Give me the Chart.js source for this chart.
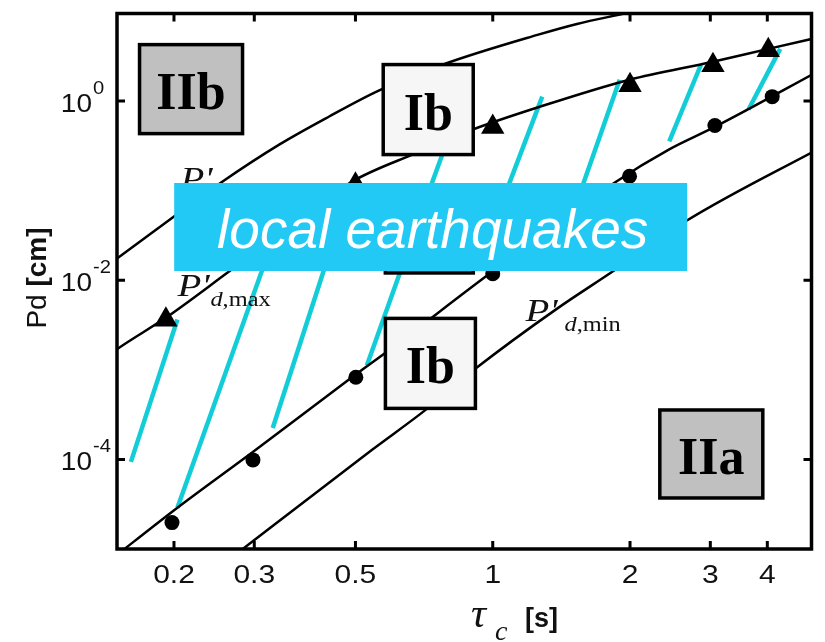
<!DOCTYPE html>
<html>
<head>
<meta charset="utf-8">
<script src="https://cdn.jsdelivr.net/npm/chart.js@4/dist/chart.umd.min.js"></script>
<style>
  html, body { margin: 0; padding: 0; background: #ffffff; }
  canvas { display: block; }
</style>
</head>
<body>
<canvas id="chart" width="825" height="642"></canvas>
<script>
// Axis ticks
const tauTicks = [0.2, 0.3, 0.5, 1, 2, 3, 4];
const tauTickLabels = ['0.2', '0.3', '0.5', '1', '2', '3', '4'];
const pdTicks = [1e-4, 1e-2, 1];
const pdTickExponents = ['-4', '-2', '0'];

// Upper boundary curve (region IIb limit)
const upperTau = [0.1456, 0.1508, 0.2035, 0.2524, 0.3409, 0.4379, 0.5623, 0.7865, 1.253, 1.53, 1.966, 2.79];
const upperPd  = [0.01565, 0.0178, 0.0548, 0.1212, 0.3286, 0.673, 1.308, 2.61, 5.48, 7.26, 9.62, 14.5];

// P'd,max curve
const maxTau = [0.1456, 0.1508, 0.1936, 0.2654, 0.3584, 0.4888, 0.6767, 0.9049, 1.253, 1.995, 3.039, 4.021, 5.35];
const maxPd  = [0.00152, 0.001733, 0.00393, 0.01275, 0.0393, 0.1243, 0.261, 0.482, 0.847, 1.733, 2.75, 3.83, 5.34];

// Middle curve through the dots
const midTau = [0.1456, 0.2035, 0.2978, 0.5012, 0.591, 0.990, 1.842, 2.438, 3.084, 5.35];
const midPd  = [7.64e-6, 2.89e-5, 1.212e-4, 8.91e-4, 1.647e-3, 0.01212, 0.1212, 0.289, 0.521, 2.36];

// P'd,min curve
const minTau = [0.2524, 0.543, 0.7114, 0.9184, 1.384, 1.842, 2.654, 5.35];
const minPd  = [6.39e-6, 1.275e-4, 3.55e-4, 1.039e-3, 4.82e-3, 0.01275, 0.0458, 0.32];

// Observed events
const triangleTau = [0.192, 0.5, 1.0, 2.0, 3.04, 4.02];
const trianglePd  = [0.00362, 0.1166, 0.514, 1.506, 2.51, 3.69];
const dotTau = [0.198, 0.298, 0.501, 1.0, 1.995, 3.07, 4.1];
const dotPd  = [1.97e-5, 9.87e-5, 8.25e-4, 0.0118, 0.145, 0.534, 1.12];

// Hatch strokes of the local-earthquake band
const hatchStartTau = [0.1609, 0.2035, 0.3293, 0.5296, 0.722, 1.067, 1.553, 2.438, 3.638];
const hatchStartPd  = [9.38e-5, 2.89e-5, 2.24e-4, 0.00112, 0.0938, 0.0938, 0.0938, 0.3548, 0.804];
const hatchEndTau   = [0.2035, 0.3162, 0.4313, 0.637, 0.790, 1.284, 1.898, 2.861, 4.27];
const hatchEndPd    = [0.00364, 0.0156, 0.0156, 0.0156, 0.329, 1.122, 1.733, 2.545, 3.83];

// Region names and banner text
const regionNames = ['IIb', 'Ib', 'Ib', 'IIa'];
const bannerText = 'local earthquakes';

const toPoints = (xs, ys) => xs.map((x, i) => ({ x: x, y: ys[i] }));

const curveStyle = {
  showLine: true, pointRadius: 0, borderColor: '#000', borderWidth: 2.5,
  cubicInterpolationMode: 'monotone', clip: 0, fill: false
};
const hatchColor = '#12cdd8';

const datasets = [
  { data: toPoints(triangleTau, trianglePd), pointStyle: 'triangle', pointRadius: 13.5,
    backgroundColor: '#000', borderColor: '#000', borderWidth: 0, showLine: false },
  { data: toPoints(dotTau, dotPd), pointStyle: 'circle', pointRadius: 7.5,
    backgroundColor: '#000', borderColor: '#000', borderWidth: 0, showLine: false },
  Object.assign({ data: toPoints(upperTau, upperPd) }, curveStyle),
  Object.assign({ data: toPoints(maxTau, maxPd) }, curveStyle),
  Object.assign({ data: toPoints(midTau, midPd) }, curveStyle),
  Object.assign({ data: toPoints(minTau, minPd) }, curveStyle)
];
hatchStartTau.forEach((t, i) => {
  datasets.push({
    data: [{ x: t, y: hatchStartPd[i] }, { x: hatchEndTau[i], y: hatchEndPd[i] }],
    showLine: true, pointRadius: 0, borderColor: hatchColor, borderWidth: 4.5,
    borderCapStyle: 'butt', tension: 0, clip: 0
  });
});

// Region boxes, anchored at their centres in data units
const regionLayout = [
  { tau: 0.218, pd: 1.36,    w: 103, h: 89, fill: '#c0c0c0' },
  { tau: 0.722, pd: 0.804,   w: 90,  h: 90, fill: '#f6f6f6' },
  { tau: 0.730, pd: 0.00118, w: 90,  h: 90, fill: '#f6f6f6' },
  { tau: 3.015, pd: 1.15e-4, w: 103, h: 88, fill: '#c0c0c0' }
];

const SANS = '"Liberation Sans", Arial, Helvetica, sans-serif';
const SERIF = '"Liberation Serif", "Times New Roman", Times, serif';

// Text drawn with a horizontal stretch factor; returns the drawn width
function stretchedText(ctx, text, x, y, sx, align) {
  const w = ctx.measureText(text).width * sx;
  let left = x;
  if (align === 'center') left = x - w / 2;
  else if (align === 'right') left = x - w;
  ctx.save();
  ctx.textAlign = 'left';
  ctx.translate(left, y);
  ctx.scale(sx, 1);
  ctx.fillText(text, 0, 0);
  ctx.restore();
  return w;
}

function drawCurveLabel(ctx, x, y, subDx, sub) {
  const sx = 1.22;
  ctx.fillStyle = '#111';
  ctx.textBaseline = 'alphabetic';
  ctx.font = 'italic 32px ' + SERIF;
  stretchedText(ctx, "P'", x, y, sx, 'left');
  if (!sub) return;
  ctx.font = 'italic 20px ' + SERIF;
  const dw = stretchedText(ctx, 'd', x + subDx, y + 10, sx, 'left');
  ctx.font = '20px ' + SERIF;
  stretchedText(ctx, sub, x + subDx + dw, y + 10, sx, 'left');
}

const decorations = {
  id: 'decorations',
  afterDatasetsDraw(chart) {
    const { ctx, scales: { x, y } } = chart;
    ctx.save();

    // P' curve labels
    drawCurveLabel(ctx, x.getPixelForValue(0.2066), y.getPixelForValue(0.104), 33, null);
    drawCurveLabel(ctx, x.getPixelForValue(0.2035), y.getPixelForValue(0.00673), 33, ',max');
    drawCurveLabel(ctx, x.getPixelForValue(1.18), y.getPixelForValue(0.00355), 39, ',min');

    // Region boxes
    ctx.lineWidth = 3.5;
    ctx.strokeStyle = '#000';
    const drawBox = (cx, cy, w, h, fill) => {
      ctx.fillStyle = fill;
      ctx.fillRect(cx - w / 2, cy - h / 2, w, h);
      ctx.strokeRect(cx - w / 2, cy - h / 2, w, h);
    };
    // box sitting under the banner
    drawBox(x.getPixelForValue(0.726), y.getPixelForValue(0.0346), 88, 82, '#f6f6f6');
    regionLayout.forEach((r, i) => {
      const cx = x.getPixelForValue(r.tau);
      const cy = y.getPixelForValue(r.pd);
      drawBox(cx, cy, r.w, r.h, r.fill);
      ctx.fillStyle = '#000';
      ctx.font = 'bold 52px ' + SERIF;
      ctx.textAlign = 'center';
      ctx.textBaseline = 'alphabetic';
      ctx.fillText(regionNames[i], cx, cy + 20);
    });

    // Banner
    const bx = x.getPixelForValue(0.731);
    const by = y.getPixelForValue(0.0393);
    ctx.fillStyle = '#21c9f4';
    ctx.fillRect(bx - 256.5, by - 44, 513, 88);
    ctx.fillStyle = '#ffffff';
    ctx.font = 'italic 55px ' + SANS;
    ctx.textAlign = 'center';
    ctx.textBaseline = 'alphabetic';
    ctx.fillText(bannerText, bx + 2, by + 21);

    ctx.restore();
  },
  afterDraw(chart) {
    const { ctx, chartArea: a, scales: { x, y } } = chart;
    ctx.save();
    // Frame
    ctx.strokeStyle = '#000';
    ctx.lineWidth = 3.5;
    ctx.strokeRect(a.left, a.top, a.right - a.left, a.bottom - a.top);
    // Inward ticks on all four sides
    ctx.lineWidth = 3;
    ctx.beginPath();
    tauTicks.forEach(t => {
      const p = x.getPixelForValue(t);
      ctx.moveTo(p, a.bottom); ctx.lineTo(p, a.bottom - 8);
      ctx.moveTo(p, a.top); ctx.lineTo(p, a.top + 8);
    });
    pdTicks.forEach(v => {
      const p = y.getPixelForValue(v);
      ctx.moveTo(a.left, p); ctx.lineTo(a.left + 8, p);
      ctx.moveTo(a.right, p); ctx.lineTo(a.right - 8, p);
    });
    ctx.stroke();

    // Tick labels
    ctx.fillStyle = '#111';
    ctx.textBaseline = 'alphabetic';
    ctx.font = '25px ' + SANS;
    tauTicks.forEach((t, i) => stretchedText(ctx, tauTickLabels[i], x.getPixelForValue(t), a.bottom + 34, 1.2, 'center'));
    pdTicks.forEach((v, i) => {
      const p = y.getPixelForValue(v);
      ctx.font = '25px ' + SANS;
      stretchedText(ctx, '10', a.left - 25, p + 11, 1.12, 'right');
      ctx.font = '18px ' + SANS;
      stretchedText(ctx, pdTickExponents[i], a.left - 24, p - 7, 1.12, 'left');
    });

    // X axis title: tau_c [s]
    ctx.textAlign = 'left';
    ctx.font = 'italic 42px ' + SERIF;
    ctx.fillText('\u03C4', 471, 627);
    ctx.font = 'italic 28px ' + SERIF;
    ctx.fillText('c', 495, 640);
    ctx.font = 'bold 27px ' + SANS;
    ctx.fillText('[s]', 525, 627);

    // Y axis title: Pd [cm]
    ctx.translate(46, 278);
    ctx.rotate(-Math.PI / 2);
    ctx.font = '28px ' + SANS;
    const w1 = ctx.measureText('Pd').width;
    ctx.font = 'bold 28px ' + SANS;
    const w2 = ctx.measureText(' [cm]').width;
    const start = -(w1 + w2) / 2;
    ctx.font = '28px ' + SANS;
    ctx.fillText('Pd', start, 0);
    ctx.font = 'bold 28px ' + SANS;
    ctx.fillText(' [cm]', start + w1, 0);
    ctx.restore();
  }
};

new Chart(document.getElementById('chart'), {
  type: 'scatter',
  data: { datasets: datasets },
  options: {
    responsive: false,
    animation: false,
    devicePixelRatio: 1,
    events: [],
    layout: { padding: { left: 117, right: 8, top: 11, bottom: 93 } },
    plugins: { legend: { display: false }, tooltip: { enabled: false } },
    scales: {
      x: { type: 'logarithmic', min: 0.15, max: 5, bounds: 'data', display: false },
      y: { type: 'logarithmic', min: 1e-5, max: 9.5, bounds: 'data', display: false }
    }
  },
  plugins: [decorations]
});
</script>
</body>
</html>
